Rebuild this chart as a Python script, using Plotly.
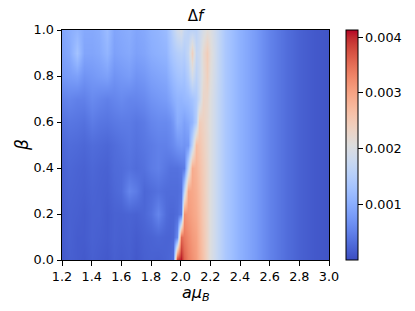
import plotly.graph_objects as go

# a*mu_B sample positions (finer near the transition)
x_vals = [1.20, 1.25, 1.30, 1.35, 1.40, 1.45, 1.50, 1.55, 1.60, 1.65, 1.70, 1.75, 1.80, 1.85, 1.90,
          1.925, 1.95, 1.975, 2.00, 2.025, 2.05, 2.075, 2.10, 2.125, 2.15, 2.175, 2.20, 2.25,
          2.30, 2.40, 2.50, 2.60, 2.70, 2.80, 2.90, 3.00]
# beta rows
y_vals = [0.0, 0.1, 0.2, 0.3, 0.4, 0.5, 0.6, 0.7, 0.8, 0.9, 1.0]

# Delta f values in units of 1e-3, one row per beta
z_rows = [
    [0.12, 0.18, 0.15, 0.12, 0.18, 0.15, 0.12, 0.18, 0.15, 0.18, 0.12, 0.18, 0.20, 0.18, 0.22,
     0.25, 0.30, 3.90, 4.10, 3.60, 3.35, 3.20, 3.05, 2.85, 2.60, 2.30, 2.05, 1.68,
     1.40, 1.05, 0.80, 0.52, 0.33, 0.20, 0.12, 0.08],
    [0.15, 0.20, 0.15, 0.15, 0.20, 0.18, 0.15, 0.20, 0.18, 0.20, 0.15, 0.20, 0.22, 0.25, 0.22,
     0.22, 0.25, 0.60, 3.55, 3.40, 3.25, 3.10, 3.00, 2.80, 2.55, 2.30, 2.05, 1.68,
     1.40, 1.05, 0.80, 0.52, 0.33, 0.20, 0.12, 0.08],
    [0.15, 0.20, 0.18, 0.15, 0.20, 0.20, 0.15, 0.20, 0.20, 0.22, 0.20, 0.25, 0.35, 0.55, 0.30,
     0.25, 0.25, 0.30, 0.45, 3.20, 3.10, 3.00, 2.90, 2.75, 2.50, 2.28, 2.05, 1.68,
     1.40, 1.05, 0.80, 0.52, 0.33, 0.20, 0.12, 0.08],
    [0.18, 0.22, 0.20, 0.18, 0.22, 0.20, 0.18, 0.25, 0.30, 0.55, 0.45, 0.25, 0.30, 0.35, 0.30,
     0.30, 0.30, 0.30, 0.35, 1.60, 3.00, 2.95, 2.85, 2.70, 2.48, 2.25, 2.05, 1.68,
     1.40, 1.05, 0.80, 0.52, 0.33, 0.20, 0.12, 0.08],
    [0.20, 0.25, 0.22, 0.20, 0.25, 0.22, 0.20, 0.28, 0.30, 0.35, 0.30, 0.35, 0.45, 0.50, 0.40,
     0.35, 0.35, 0.35, 0.40, 0.45, 1.70, 2.90, 2.80, 2.65, 2.45, 2.25, 2.05, 1.68,
     1.40, 1.05, 0.80, 0.52, 0.33, 0.20, 0.12, 0.08],
    [0.25, 0.30, 0.28, 0.25, 0.30, 0.28, 0.25, 0.30, 0.35, 0.40, 0.35, 0.40, 0.45, 0.50, 0.50,
     0.55, 0.60, 0.70, 0.75, 0.70, 0.75, 1.60, 2.70, 2.58, 2.40, 2.22, 2.05, 1.68,
     1.40, 1.05, 0.80, 0.52, 0.33, 0.20, 0.12, 0.08],
    [0.35, 0.40, 0.38, 0.35, 0.45, 0.40, 0.38, 0.42, 0.45, 0.45, 0.40, 0.45, 0.55, 0.60, 0.60,
     0.65, 0.75, 1.00, 0.95, 0.85, 0.95, 1.10, 1.50, 2.45, 2.35, 2.20, 2.05, 1.68,
     1.40, 1.05, 0.80, 0.52, 0.33, 0.20, 0.12, 0.08],
    [0.50, 0.55, 0.50, 0.50, 0.60, 0.55, 0.50, 0.55, 0.60, 0.55, 0.55, 0.60, 0.70, 0.75, 0.80,
     0.90, 1.00, 1.10, 1.10, 1.15, 1.20, 1.30, 1.45, 1.75, 2.30, 2.25, 2.05, 1.68,
     1.40, 1.05, 0.80, 0.52, 0.33, 0.20, 0.12, 0.08],
    [0.75, 0.80, 0.85, 0.70, 0.75, 0.80, 0.85, 0.70, 0.75, 0.80, 0.70, 0.75, 0.85, 0.90, 0.95,
     1.10, 1.20, 1.30, 1.35, 1.30, 1.50, 1.90, 1.60, 1.80, 2.15, 2.40, 2.10, 1.70,
     1.40, 1.05, 0.80, 0.52, 0.33, 0.20, 0.12, 0.08],
    [0.85, 0.95, 1.30, 0.90, 0.90, 0.95, 1.10, 0.85, 0.90, 0.95, 0.85, 0.90, 1.00, 1.05, 1.10,
     1.30, 1.40, 1.50, 1.55, 1.50, 1.70, 2.40, 1.70, 1.80, 2.20, 2.45, 2.15, 1.70,
     1.40, 1.05, 0.80, 0.52, 0.33, 0.20, 0.12, 0.08],
    [0.90, 1.00, 1.10, 0.95, 0.95, 1.00, 1.20, 0.90, 0.95, 1.00, 0.90, 0.95, 1.05, 1.10, 1.20,
     1.40, 1.60, 1.85, 1.95, 1.70, 1.60, 1.60, 1.60, 1.75, 1.95, 2.10, 2.05, 1.70,
     1.40, 1.05, 0.80, 0.52, 0.33, 0.20, 0.12, 0.08],
]

x_ticks = [1.2, 1.4, 1.6, 1.8, 2.0, 2.2, 2.4, 2.6, 2.8, 3.0]
y_ticks = [0.0, 0.2, 0.4, 0.6, 0.8, 1.0]
cbar_ticks = [1, 2, 3, 4]
cbar_labels = ["0.001", "0.002", "0.003", "0.004"]

# matplotlib "coolwarm" (Moreland) colour map
cw = [
    (59, 76, 192), (68, 90, 204), (77, 104, 215), (87, 117, 225), (98, 130, 234),
    (108, 142, 241), (119, 154, 247), (130, 165, 251), (141, 176, 254), (152, 185, 255),
    (163, 194, 255), (174, 201, 253), (184, 208, 249), (194, 213, 244), (204, 217, 238),
    (213, 219, 230), (221, 221, 221), (229, 216, 209), (236, 211, 197), (241, 204, 185),
    (245, 196, 173), (247, 187, 160), (247, 177, 148), (247, 166, 135), (244, 154, 123),
    (241, 141, 111), (236, 127, 99), (229, 112, 88), (222, 96, 77), (213, 80, 66),
    (203, 62, 56), (192, 40, 47), (180, 4, 38),
]
colorscale = [[i / (len(cw) - 1), "rgb(%d,%d,%d)" % c] for i, c in enumerate(cw)]

FONT = "DejaVu Sans"
TICK_FONT = dict(family=FONT, size=12.8, color="black")

fig = go.Figure(go.Heatmap(
    x=x_vals, y=y_vals, z=z_rows,
    zsmooth="best",
    colorscale=colorscale,
    zmin=0.0, zmax=4.13,
    hoverinfo="skip",
    colorbar=dict(
        x=1.064, xanchor="left", xref="paper", xpad=0, ypad=0,
        y=0.5, yanchor="middle", len=1.0, lenmode="fraction",
        thickness=12, outlinewidth=1, outlinecolor="black",
        tickvals=cbar_ticks, ticktext=cbar_labels,
        ticks="outside", ticklen=4.5, tickcolor="black",
        tickfont=TICK_FONT,
    ),
))

fig.update_layout(
    width=415, height=311,
    margin=dict(l=62, r=86, t=30, b=51, autoexpand=False),
    paper_bgcolor="white", plot_bgcolor="white",
    font=dict(family=FONT, color="black"),
    title=dict(text="Δ<i>f</i>", x=0.5, xref="paper", xanchor="center",
               y=1 - 16 / 311, yref="container", yanchor="middle",
               font=dict(family=FONT, size=15, color="black")),
    xaxis=dict(range=[1.2, 3.0], tickvals=x_ticks, tickformat=".1f",
               ticks="outside", ticklen=4.5, tickcolor="black",
               showline=True, mirror=True, linecolor="black", linewidth=1,
               showgrid=False, zeroline=False, automargin=False,
               tickfont=TICK_FONT),
    yaxis=dict(range=[0.0, 1.0], tickvals=y_ticks, tickformat=".1f",
               ticks="outside", ticklen=4.5, tickcolor="black",
               showline=True, mirror=True, linecolor="black", linewidth=1,
               showgrid=False, zeroline=False, automargin=False,
               tickfont=TICK_FONT),
    annotations=[
        dict(text="<i>aμ</i><sub><i>B</i></sub>", xref="paper", yref="paper",
             x=0.5, y=-(293 - 260) / 230, xanchor="center", yanchor="middle",
             showarrow=False, font=dict(family=FONT, size=16, color="black")),
        dict(text="<i>β</i>", xref="paper", yref="paper",
             x=-(62 - 22) / 267, y=0.5, xanchor="center", yanchor="middle",
             textangle=-90, showarrow=False,
             font=dict(family=FONT, size=17, color="black")),
    ],
)

fig.write_html("out.html", config={"displayModeBar": False},
               post_script="document.body.style.margin='0px';")
